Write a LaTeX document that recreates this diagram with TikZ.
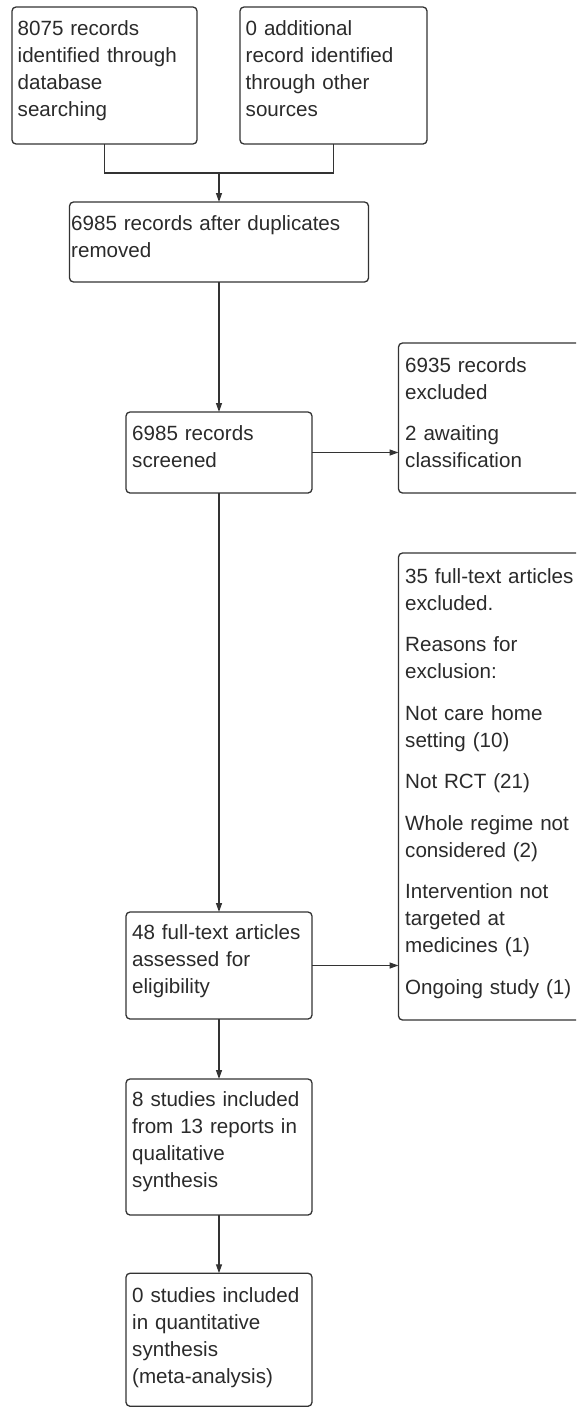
\documentclass[tikz,border=0pt]{standalone}
\usepackage{fontspec}
\setmainfont{Liberation Sans}
\usetikzlibrary{arrows.meta}
\hyphenpenalty=10000
\definecolor{linec}{HTML}{333333}
\definecolor{textc}{HTML}{2A2A2A}
\tikzset{
  box/.style={draw=linec, line width=1.3pt, rounded corners=4pt, rectangle, inner sep=0pt, outer sep=0pt},
  txt/.style={anchor=north west, inner sep=0pt, text width=420pt, align=left,
    font=\fontsize{20.6}{27}\selectfont, text=textc},
  conn/.style={draw=linec, line width=1.3pt},
  arr/.style={conn, -{Triangle[length=9pt,width=6pt]}}
}
\begin{document}
\begin{tikzpicture}[x=1pt,y=-1pt]
\useasboundingbox (0,0) rectangle (576,1408);
\begin{scope}
\clip (0,0) rectangle (576,1408);
% boxes
\node[box, minimum width=185pt, minimum height=137pt] (b1) at (104.5,75.5) {};
\node[box, minimum width=187pt, minimum height=137pt] (b2) at (333.5,75.5) {};
\node[box, minimum width=299pt, minimum height=80pt] (b3) at (219,242) {};
\node[box, minimum width=186pt, minimum height=81pt] (b4) at (219,452.5) {};
\node[box, minimum width=201.5pt, minimum height=150pt] (b5) at (499.25,418) {};
\node[box, minimum width=201.5pt, minimum height=467pt] (b6) at (499.25,786.5) {};
\node[box, minimum width=186pt, minimum height=107pt] (b7) at (219,965.5) {};
\node[box, minimum width=186pt, minimum height=136pt] (b8) at (219,1147) {};
\node[box, minimum width=186pt, minimum height=133pt] (b9) at (219,1339.75) {};
% texts
\node[txt] (t1) at (17.5,16.1) {\strut 8075 records\\identified through\\database\\searching};
\node[txt] (t2) at (245.5,16.1) {\strut 0 additional\\record identified\\through other\\sources};
\node[txt] (t3) at (71,211.1) {\strut 6985 records after duplicates\\removed};
\node[txt] (t4) at (132,421.1) {\strut 6985 records\\screened};
\node[txt] (t5) at (405,353.1) {\strut 6935 records\\excluded\\[14.5pt]2 awaiting\\classification};
\node[txt] (t6) at (405,564.1) {\strut 35 full-text articles\\excluded.\\[14.5pt]Reasons for\\exclusion:\\[14.5pt]Not care home\\setting (10)\\[14.5pt]Not RCT (21)\\[14.5pt]Whole regime not\\considered (2)\\[14.5pt]Intervention not\\targeted at\\medicines (1)\\[14.5pt]Ongoing study (1)};
\node[txt] (t7) at (132,920.1) {\strut 48 full-text articles\\assessed for\\eligibility};
\node[txt] (t8) at (132,1087.1) {\strut 8 studies included\\from 13 reports in\\qualitative\\synthesis};
\node[txt] (t9) at (132,1283.1) {\strut 0 studies included\\in quantitative\\synthesis\\(meta-analysis)};
% connectors
\coordinate (j) at (219,173);
\draw[conn] (b1.south) -- (b1.south |- j) -- (b2.south |- j) -- (b2.south);
\draw[arr] (j) -- (b3.north);
\draw[arr] (b3.south) -- (b4.north);
\draw[arr] (b4.east) -- (b4.east -| b5.west);
\draw[arr] (b4.south) -- (b7.north);
\draw[arr] (b7.east) -- (b7.east -| b6.west);
\draw[arr] (b7.south) -- (b8.north);
\draw[arr] (b8.south) -- (b9.north);
\end{scope}
\end{tikzpicture}
\end{document}
